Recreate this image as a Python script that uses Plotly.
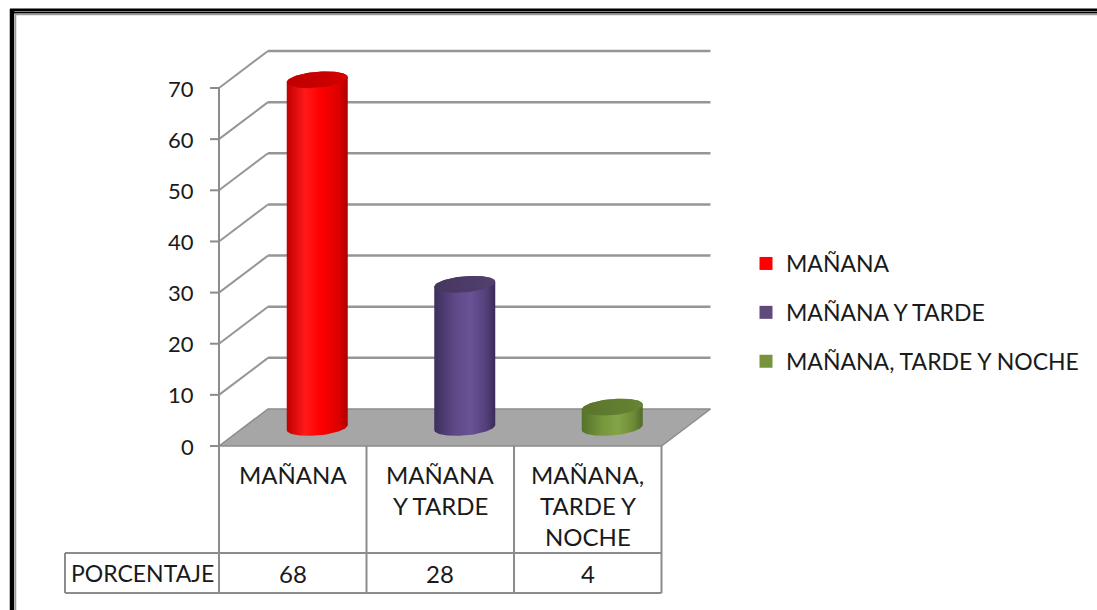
import numpy as np
import plotly.graph_objects as go

# ---------------- data ----------------
categories = ["MAÑANA", "MAÑANA Y TARDE", "MAÑANA, TARDE Y NOCHE"]
table_lines = [["MAÑANA"], ["MAÑANA", "Y TARDE"], ["MAÑANA,", "TARDE Y", "NOCHE"]]
values = [68, 28, 4]
row_label = "PORCENTAJE"
y_ticks = [0, 10, 20, 30, 40, 50, 60, 70]

legend_colors = ["#ff0000", "#604a7b", "#77933c"]
body_scales = [
    [[0, "#c00000"], [0.3, "#ff1a1a"], [0.55, "#ff0000"], [0.85, "#dc0000"], [1, "#b00000"]],
    [[0, "#3d2e5c"], [0.35, "#5f4a88"], [0.6, "#6a5296"], [0.85, "#53407a"], [1, "#3a2b58"]],
    [[0, "#55712b"], [0.35, "#78983d"], [0.6, "#84a447"], [0.85, "#6d8b37"], [1, "#506b28"]],
]
top_scales = [
    [[0, "#c00000"], [0.6, "#c80000"], [1, "#d80000"]],
    [[0, "#45365f"], [1, "#52406f"]],
    [[0, "#5a752c"], [1, "#668434"]],
]

# ---------------- geometry (style) ----------------
W, H = 1097, 610
X0, XS = 219.0, 147.5      # pixel of category origin, pixels per category
Y0, YS = 446.0, 5.114      # pixel of value 0, pixels per value unit


def px_x(p):
    return p / XS


def px_y(p):
    return p / YS


DX = px_x(49)      # depth offset in x
DZ = px_y(37)      # depth offset in y
N = len(values)
YMAX = y_ticks[-1]

fig = go.Figure()
shapes = []
annotations = []

GRID = "#969696"
EDGE = "#8c8c8c"

# floor
fx = [0, N, N + DX, DX, 0]
fy = [0, 0, DZ, DZ, 0]
fig.add_trace(go.Scatter(x=fx, y=fy, mode="lines", fill="toself", fillcolor="#a6a6a6",
                         line=dict(color=EDGE, width=1.5), hoverinfo="skip", showlegend=False))

# back wall gridlines and side-wall diagonals
for t in y_ticks:
    if t > 0:
        shapes.append(dict(type="line", xref="x", yref="y", x0=DX, x1=N + DX, y0=t + DZ, y1=t + DZ,
                           line=dict(color=GRID, width=2.5), layer="below"))
        shapes.append(dict(type="line", xref="x", yref="y", x0=0, x1=DX, y0=t, y1=t + DZ,
                           line=dict(color=GRID, width=2), layer="below"))
    # tick mark
    shapes.append(dict(type="line", xref="x", yref="y", x0=-px_x(9), x1=0, y0=t, y1=t,
                       line=dict(color=EDGE, width=2)))
    annotations.append(dict(x=-px_x(23), y=t, xref="x", yref="y", text=str(t), showarrow=False,
                            xanchor="right", yanchor="middle",
                            font=dict(family="Lato", size=22, color="#1a1a1a")))
# y axis line
shapes.append(dict(type="line", xref="x", yref="y", x0=0, x1=0, y0=0, y1=YMAX,
                   line=dict(color=EDGE, width=2)))

# cylinders
a = px_x(30.5)
e = px_y(8)
tilt = px_y(2.5)
th_low = np.linspace(np.pi, 2 * np.pi, 60)
th_up = np.linspace(0, np.pi, 60)
th_full = np.linspace(0, 2 * np.pi, 120)
for i, v in enumerate(values):
    cx = i + 0.5 + DX / 2
    base = DZ / 2
    top = base + v
    bx = cx + a * np.cos(th_low)
    by = base + e * np.sin(th_low) + tilt * np.cos(th_low)
    tx = cx + a * np.cos(th_up)
    ty = top + e * np.sin(th_up) + tilt * np.cos(th_up)
    xs = np.concatenate([bx, tx, bx[:1]])
    ys = np.concatenate([by, ty, by[:1]])
    fig.add_trace(go.Scatter(x=xs, y=ys, mode="lines", fill="toself",
                             fillgradient=dict(type="horizontal", colorscale=body_scales[i]),
                             line=dict(width=0), hoverinfo="skip", showlegend=False))
    ex = cx + a * np.cos(th_full)
    ey = top + e * np.sin(th_full) + tilt * np.cos(th_full)
    fig.add_trace(go.Scatter(x=ex, y=ey, mode="lines", fill="toself",
                             fillgradient=dict(type="horizontal", colorscale=top_scales[i]),
                             line=dict(width=0), hoverinfo="skip", showlegend=False))

# legend entries
for i, c in enumerate(categories):
    fig.add_trace(go.Scatter(x=[None], y=[None], mode="markers", name=c, legendgroup=str(i),
                             marker=dict(symbol="square", size=13, color=legend_colors[i])))

# data table
ROW1 = -px_y(553 - Y0)
ROW2 = -px_y(593 - Y0)
LEFT = px_x(65 - X0)
for k in range(N + 1):
    shapes.append(dict(type="line", xref="x", yref="y", x0=k, x1=k, y0=0, y1=ROW2,
                       line=dict(color=EDGE, width=2)))
for yy in (ROW1, ROW2):
    shapes.append(dict(type="line", xref="x", yref="y", x0=LEFT, x1=N, y0=yy, y1=yy,
                       line=dict(color=EDGE, width=2)))
shapes.append(dict(type="line", xref="x", yref="y", x0=LEFT, x1=LEFT, y0=ROW1, y1=ROW2,
                   line=dict(color=EDGE, width=2)))

TFONT = dict(family="Lato", size=24, color="#1a1a1a")
for i, lines in enumerate(table_lines):
    for k, ln in enumerate(lines):
        annotations.append(dict(x=i + 0.5, y=-px_y(474 + 31 * k - Y0), xref="x", yref="y",
                                text=ln, showarrow=False, xanchor="center", yanchor="middle",
                                font=TFONT))
    annotations.append(dict(x=i + 0.5, y=(ROW1 + ROW2) / 2, xref="x", yref="y", text=str(values[i]),
                            showarrow=False, xanchor="center", yanchor="middle", font=TFONT))
annotations.append(dict(x=LEFT / 2, y=(ROW1 + ROW2) / 2, xref="x", yref="y", text=row_label,
                        showarrow=False, xanchor="center", yanchor="middle",
                        font=dict(family="Lato", size=23, color="#1a1a1a")))

# outer frame
shapes += [
    dict(type="line", xref="paper", yref="paper", x0=10 / W, x1=1, y0=1 - 10 / H, y1=1 - 10 / H,
         line=dict(color="black", width=3)),
    dict(type="line", xref="paper", yref="paper", x0=13 / W, x1=1, y0=1 - 12.8 / H, y1=1 - 12.8 / H,
         line=dict(color="black", width=1.5)),
    dict(type="line", xref="paper", yref="paper", x0=15 / W, x1=1, y0=1 - 14.5 / H, y1=1 - 14.5 / H,
         line=dict(color="#9a9a9a", width=1.5)),
    dict(type="line", xref="paper", yref="paper", x0=12 / W, x1=12 / W, y0=0, y1=1 - 9 / H,
         line=dict(color="black", width=4.5)),
    dict(type="line", xref="paper", yref="paper", x0=15.5 / W, x1=15.5 / W, y0=0, y1=1 - 14 / H,
         line=dict(color="#9a9a9a", width=1.5)),
]

fig.update_layout(
    width=W, height=H,
    margin=dict(l=0, r=0, t=0, b=0),
    paper_bgcolor="white", plot_bgcolor="white",
    xaxis=dict(range=[-X0 / XS, (W - X0) / XS], visible=False, fixedrange=True),
    yaxis=dict(range=[(Y0 - H) / YS, Y0 / YS], visible=False, fixedrange=True),
    shapes=shapes,
    annotations=annotations,
    showlegend=True,
    legend=dict(x=746 / W, y=1 - 242 / H, xanchor="left", yanchor="top",
                font=dict(family="Lato", size=23, color="#1a1a1a"),
                tracegroupgap=16, traceorder="grouped", bgcolor="rgba(0,0,0,0)"),
)

fig.write_html("out.html", config={"displayModeBar": False},
               post_script="document.body.style.margin='0';document.body.style.overflow='hidden';")
